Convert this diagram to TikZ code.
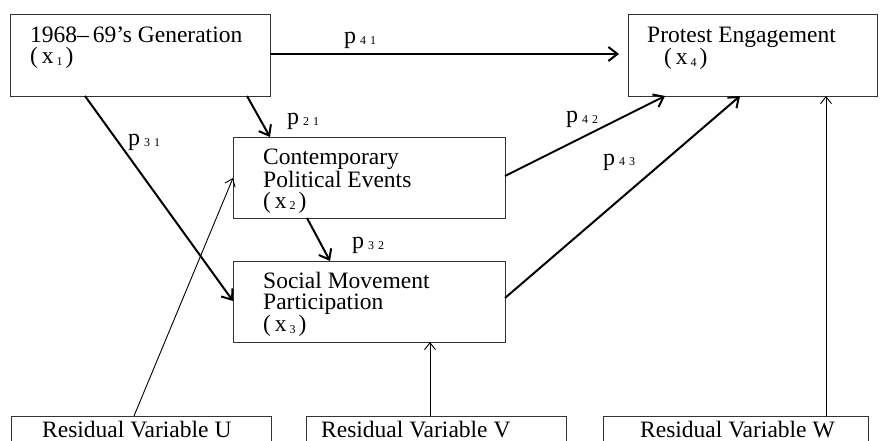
\documentclass[tikz,border=0pt]{standalone}
\usepackage{fontspec}
\setmainfont{Liberation Serif}
\usetikzlibrary{arrows.meta}
\begin{document}
\begin{tikzpicture}[x=1pt,y=-1pt,
  boxnode/.style={draw=black!80,line width=1.3pt,rectangle,inner sep=0pt,anchor=north west},
  txt/.style={anchor=north west,inner sep=0pt,align=left,font=\fontsize{23.5}{21}\selectfont},
  onetxt/.style={anchor=base west,inner sep=0pt,font=\fontsize{23.5}{21}\selectfont},
  plab/.style={anchor=base west,inner sep=0pt,font=\fontsize{24}{24}\selectfont},
  path arrow/.style={line width=2pt,-{Straight Barb[length=9pt,width=14pt,line width=2pt]}},
  thin arrow/.style={line width=0.9pt,-{Straight Barb[length=7pt,width=11pt,line width=0.9pt]}}]
\newcommand{\sbx}[1]{\hspace{3pt}\raisebox{-1.5pt}{\fontsize{12}{12}\selectfont #1}\hspace{3pt}}
\newcommand{\psub}[2]{p\hspace{4pt}\raisebox{-1pt}{\fontsize{12}{12}\selectfont #1\hspace{4pt}#2}}
\useasboundingbox (0,0) rectangle (881,441);
\clip (0,0) rectangle (881,441);
\fill[white] (0,0) rectangle (881,441);
% boxes
\node[boxnode,minimum width=260pt,minimum height=82pt] (b1) at (10,14) {};
\node[boxnode,minimum width=249pt,minimum height=82pt] (b4) at (628,14) {};
\node[boxnode,minimum width=272pt,minimum height=81pt] (b2) at (233,137) {};
\node[boxnode,minimum width=272pt,minimum height=81pt] (b3) at (233,261) {};
\node[boxnode,minimum width=260pt,minimum height=40pt] (bu) at (11,416) {};
\node[boxnode,minimum width=260pt,minimum height=40pt] (bv) at (306,416) {};
\node[boxnode,minimum width=265pt,minimum height=40pt] (bw) at (603,416) {};
% texts
\node[txt] (t1) at (30,27) {1968–\,69's Generation\\(\,x\sbx{1})};
\node[txt] (t4) at (647,27) {Protest Engagement\\\hspace{17pt}(\,x\sbx{4})};
\node[txt] (t2) at (263,149) {Contemporary\\Political Events\\(\,x\sbx{2})};
\node[txt] (t3) at (263,272) {Social Movement\\Participation\\(\,x\sbx{3})};
\node[onetxt] (tu) at (42,437) {Residual Variable U};
\node[onetxt] (tv) at (321,437) {Residual Variable V};
\node[onetxt] (tw) at (640,437) {Residual Variable W};
% anchor coordinates
\coordinate (a41s) at (270,54);
\coordinate (a41e) at (619,54);
\coordinate (a21s) at (247,96);
\coordinate (a21e) at (270,137);
\coordinate (a31s) at (85,96);
\coordinate (a31e) at (233,301);
\coordinate (a32s) at (307,218);
\coordinate (a32e) at (330,261);
\coordinate (a42s) at (505,176);
\coordinate (a42e) at (665,96);
\coordinate (a43s) at (505,298);
\coordinate (a43e) at (740,96);
\coordinate (aus) at (134,416);
\coordinate (aue) at (233,178);
\coordinate (avs) at (430,416);
\coordinate (ave) at (430,342);
\coordinate (aws) at (826,416);
\coordinate (awe) at (826,96);
% arrows
\draw[path arrow] (a41s) -- (a41e);
\draw[path arrow] (a21s) -- (a21e);
\draw[path arrow] (a31s) -- (a31e);
\draw[path arrow] (a32s) -- (a32e);
\draw[path arrow] (a42s) -- (a42e);
\draw[path arrow] (a43s) -- (a43e);
\draw[thin arrow] (aus) -- (aue);
\draw[thin arrow] (avs) -- (ave);
\draw[thin arrow] (aws) -- (awe);
% labels
\node[plab] (p41) at (344,44) {\psub{4}{1}};
\node[plab] (p21) at (287,125) {\psub{2}{1}};
\node[plab] (p31) at (128,146) {\psub{3}{1}};
\node[plab] (p32) at (352,248) {\psub{3}{2}};
\node[plab] (p42) at (566,123) {\psub{4}{2}};
\node[plab] (p43) at (603,165) {\psub{4}{3}};
\end{tikzpicture}
\end{document}
